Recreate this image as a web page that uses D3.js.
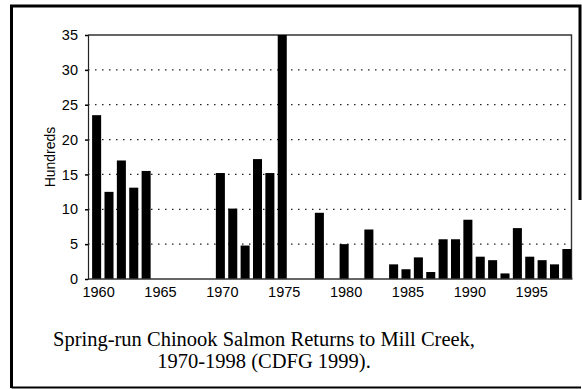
<!DOCTYPE html>
<html>
<head>
<meta charset="utf-8">
<script src="https://cdn.jsdelivr.net/npm/d3@7"></script>
<style>
  body { margin: 0; background: #fff; }
  svg { display: block; }
</style>
</head>
<body>
<svg id="chart" width="582" height="389"></svg>
<script>
// returns per year, in hundreds of fish
const years = d3.range(1960, 1999);
const returns = [
  23.5, 12.5, 17.0, 13.1, 15.5, 0, 0, 0, 0, 0,
  15.2, 10.1, 4.8, 17.2, 15.2, 35.0, 0, 0, 9.5, 0,
  5.0, 0, 7.1, 0, 2.1, 1.4, 3.1, 1.0, 5.7, 5.7,
  8.5, 3.2, 2.7, 0.8, 7.3, 3.2, 2.7, 2.1, 4.3
];
const yTicks = [0, 5, 10, 15, 20, 25, 30, 35];
const xTicks = [1960, 1965, 1970, 1975, 1980, 1985, 1990, 1995];
const caption = ["Spring-run Chinook Salmon Returns to Mill Creek,", "1970-1998 (CDFG 1999)."];

const svg = d3.select("#chart");

// outer frame (right side only partly visible in the scan)
svg.append("path")
  .attr("d", "M11.5,388 L11.5,6 L580,6 L580,200")
  .attr("fill", "none").attr("stroke", "#000").attr("stroke-width", 3);
svg.append("line")
  .attr("x1", 11.5).attr("x2", 581).attr("y1", 387.5).attr("y2", 387.5)
  .attr("stroke", "#000").attr("stroke-width", 2);

const plotL = 88, plotR = 571.5, plotT = 35, plotB = 279;

const x = d3.scaleBand()
  .domain(years)
  .range([90.5, 573])
  .paddingInner(0.27)
  .paddingOuter(0.13);

const y = d3.scaleLinear()
  .domain([0, 35])
  .range([plotB, plotT]);

// dotted grid
svg.append("g")
  .selectAll("line")
  .data(yTicks.filter(d => d > 0 && d < 35))
  .join("line")
  .attr("x1", plotL).attr("x2", plotR)
  .attr("y1", d => y(d)).attr("y2", d => y(d))
  .attr("stroke", "#222").attr("stroke-width", 1.3)
  .attr("stroke-dasharray", "1.5,5.5");

// plot frame top + right
svg.append("path")
  .attr("d", `M${plotL},${y(35)} L${plotR},${y(35)} L${plotR},${plotB}`)
  .attr("fill", "none").attr("stroke", "#333").attr("stroke-width", 1.4);

// bars
svg.append("g")
  .selectAll("rect")
  .data(years.map((yr, i) => ({ yr: yr, v: returns[i] })).filter(d => d.v > 0))
  .join("rect")
  .attr("x", d => x(d.yr))
  .attr("width", x.bandwidth())
  .attr("y", d => y(d.v))
  .attr("height", d => y(0) - y(d.v))
  .attr("fill", "#000");

// y axis
const yAxis = svg.append("g")
  .attr("transform", `translate(${plotL},0)`)
  .call(d3.axisLeft(y).tickValues(yTicks).tickSize(3).tickPadding(7));
yAxis.select(".domain").attr("stroke", "#222").attr("stroke-width", 1.2);
yAxis.selectAll(".tick line").attr("stroke", "#000").attr("stroke-width", 1.5);
yAxis.selectAll("text")
  .attr("font-family", "Liberation Sans, Arial, sans-serif")
  .attr("font-size", 14.5).attr("fill", "#000");

// x axis baseline + labels
svg.append("line")
  .attr("x1", plotL).attr("x2", plotR + 1)
  .attr("y1", plotB).attr("y2", plotB)
  .attr("stroke", "#333").attr("stroke-width", 1.5);

svg.append("g")
  .selectAll("text")
  .data(xTicks)
  .join("text")
  .attr("x", d => x(d) + x.bandwidth() / 2 + 2)
  .attr("y", 297)
  .attr("text-anchor", "middle")
  .attr("font-family", "Liberation Sans, Arial, sans-serif")
  .attr("font-size", 14.5)
  .text(d => d);

// y label
svg.append("text")
  .attr("transform", "translate(55,157) rotate(-90)")
  .attr("text-anchor", "middle")
  .attr("font-family", "Liberation Sans, Arial, sans-serif")
  .attr("font-size", 14)
  .text("Hundreds");

// caption
svg.append("g")
  .selectAll("text")
  .data(caption)
  .join("text")
  .attr("x", 264)
  .attr("y", (d, i) => 346 + i * 22)
  .attr("text-anchor", "middle")
  .attr("font-family", "Liberation Serif, Times New Roman, serif")
  .attr("font-size", 20.5)
  .text(d => d);
</script>
</body>
</html>
